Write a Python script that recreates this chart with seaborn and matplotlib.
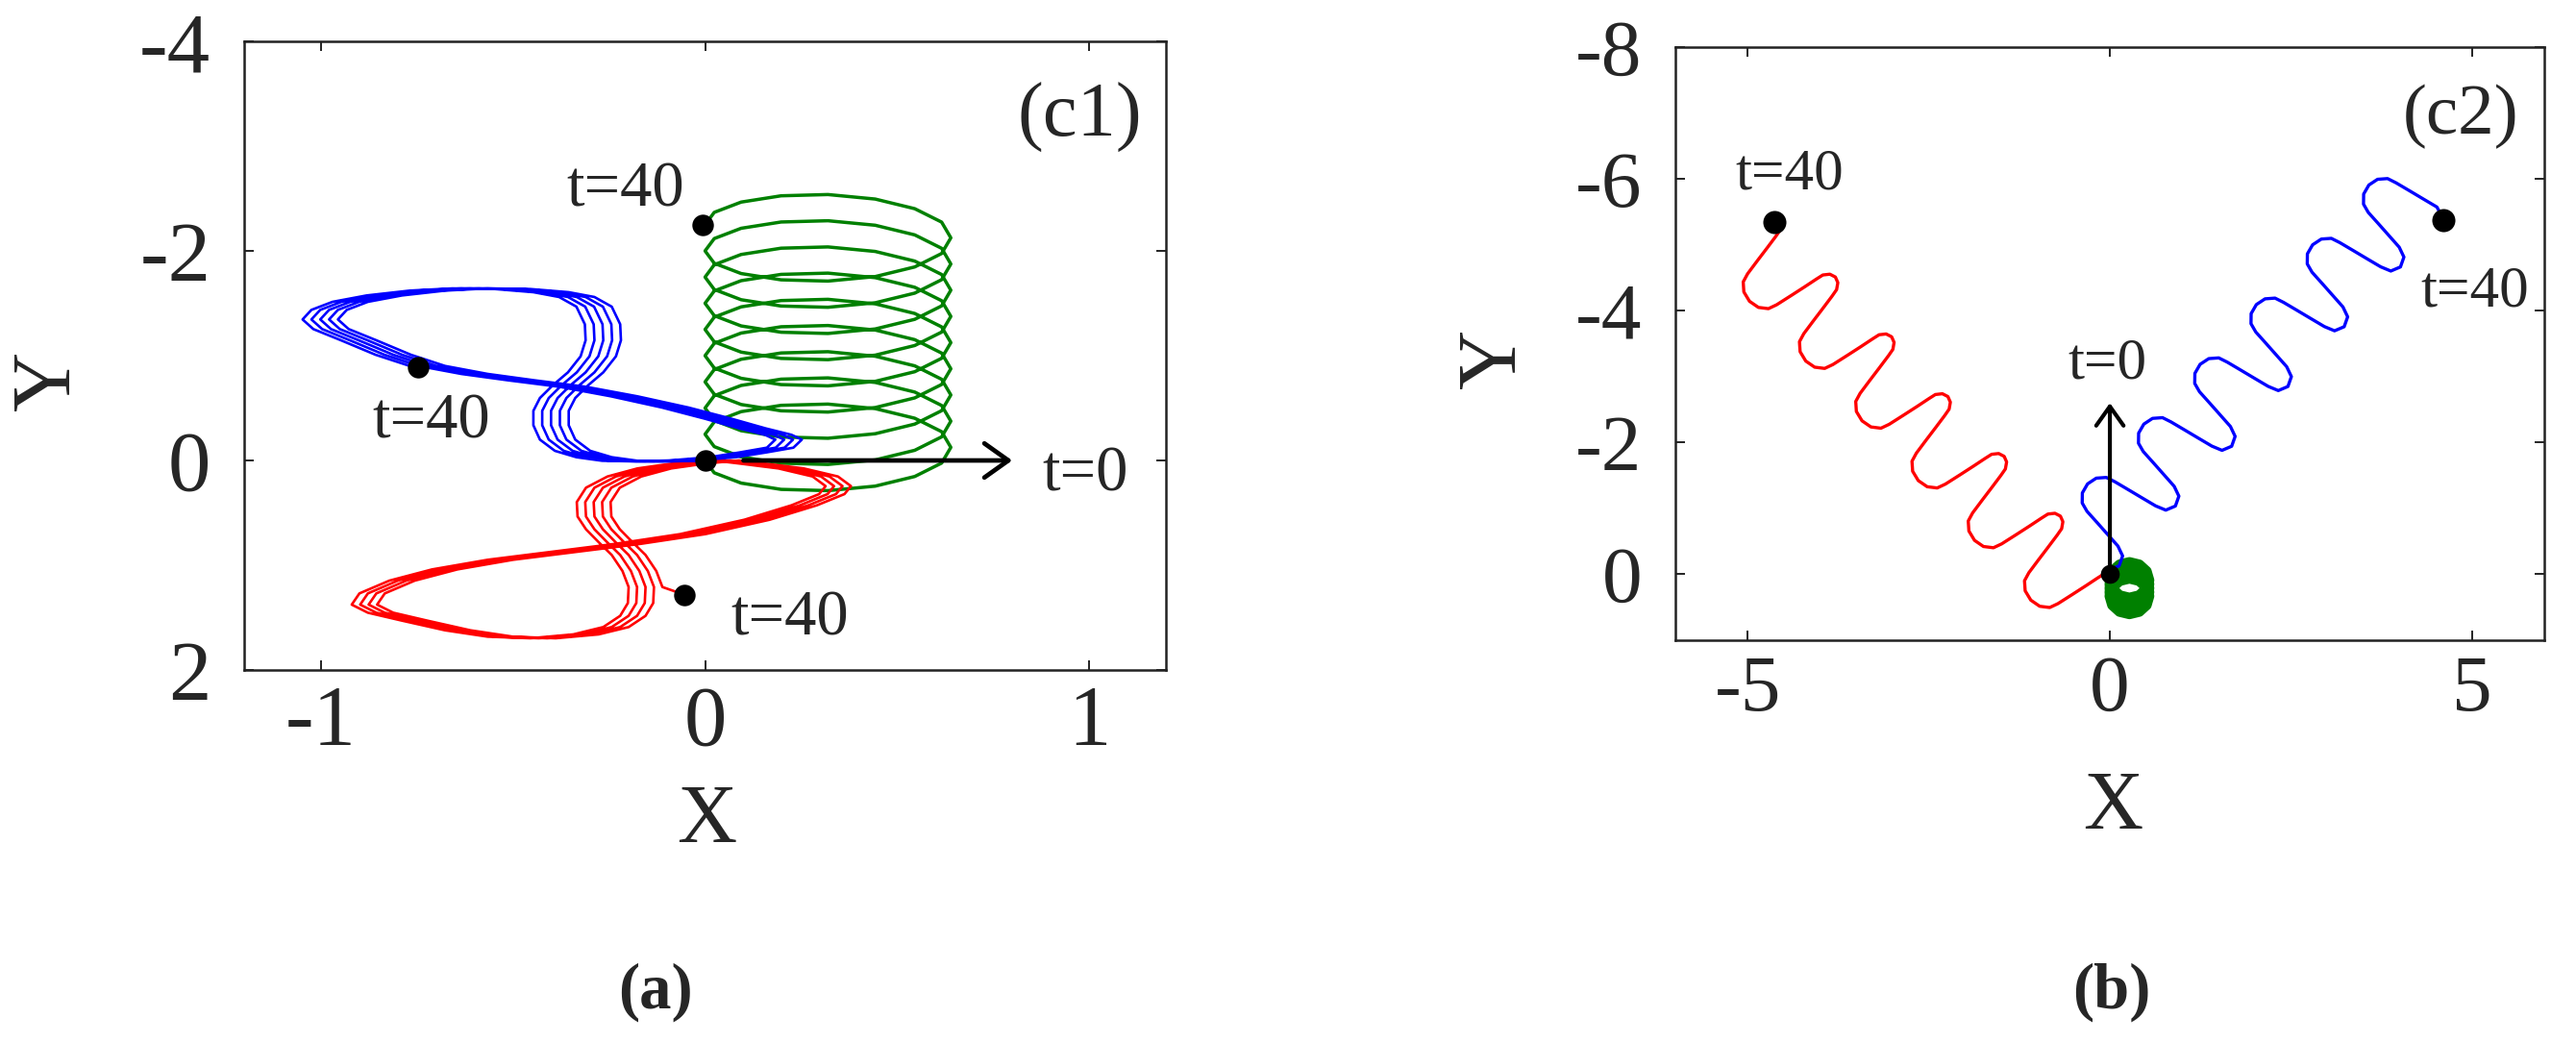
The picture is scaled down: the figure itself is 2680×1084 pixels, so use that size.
import matplotlib
matplotlib.use("Agg")
import matplotlib.pyplot as plt
import seaborn as sns

# ============================
# Values
# ============================

# (a) green spiral: one loop (with its own drift), stacked upward loop after loop
green_a_loop_x = [0.0, 0.024, 0.094, 0.198, 0.32, 0.443, 0.546, 0.616,
                  0.64, 0.616, 0.546, 0.443, 0.32, 0.198, 0.094, 0.024]
green_a_loop_y = [0.0, 0.118, 0.216, 0.276, 0.288, 0.245, 0.153, 0.025,
                  -0.125, -0.275, -0.403, -0.495, -0.538, -0.526, -0.466, -0.368]
green_a_step_y = [0.0, -0.25, -0.5, -0.75, -1.0, -1.25, -1.5, -1.75, -2.0]
green_a_end = (0.0, -2.25)

# (a) blue figure-eight strand, repeated strands drift left
blue_a_x = [0.0, -0.087, -0.176, -0.243, -0.299, -0.338, -0.355, -0.355, -0.338, -0.304,
            -0.265, -0.232, -0.219, -0.221, -0.243, -0.288, -0.355, -0.455, -0.566, -0.677,
            -0.789, -0.878, -0.933, -0.956, -0.928, -0.856, -0.766, -0.677, -0.566, -0.444,
            -0.310, -0.176, -0.043, 0.069, 0.158, 0.225, 0.252, 0.230, 0.158, 0.080]
blue_a_y = [0.0, 0.009, 0.003, -0.031, -0.092, -0.199, -0.336, -0.474, -0.596, -0.719,
            -0.841, -0.994, -1.147, -1.300, -1.468, -1.560, -1.606, -1.636, -1.642, -1.621,
            -1.575, -1.514, -1.437, -1.346, -1.254, -1.147, -1.009, -0.902, -0.826, -0.765,
            -0.703, -0.612, -0.505, -0.398, -0.306, -0.245, -0.199, -0.122, -0.076, -0.031]
blue_a_shift = [0.0, -0.023, -0.046, -0.069, -0.092]
blue_a_last = 27          # last strand stops on the diagonal
blue_a_end = (-0.746, -0.893)

# (a) red figure-eight strand, repeated strands drift right
red_a_x = [0.0, -0.087, -0.176, -0.254, -0.310, -0.334, -0.332, -0.310, -0.277, -0.243,
           -0.215, -0.199, -0.201, -0.221, -0.265, -0.343, -0.455, -0.566, -0.677, -0.789,
           -0.878, -0.920, -0.900, -0.822, -0.711, -0.566, -0.399, -0.232, -0.065, 0.102,
           0.225, 0.297, 0.314, 0.280, 0.191, 0.091]
red_a_y = [0.0, 0.030, 0.076, 0.153, 0.260, 0.397, 0.535, 0.657, 0.780, 0.902,
           1.055, 1.208, 1.361, 1.483, 1.590, 1.660, 1.697, 1.682, 1.621, 1.529,
           1.453, 1.376, 1.269, 1.147, 1.040, 0.948, 0.872, 0.795, 0.703, 0.566,
           0.428, 0.321, 0.245, 0.153, 0.076, 0.030]
red_a_shift = [0.0, 0.022, 0.044, 0.066, 0.088]
red_a_last = 11
red_a_end = (-0.055, 1.28)

# (b) red meander: one period, repeated along the diagonal
red_b_x = [0.018, -0.079, -0.171, -0.329, -0.511, -0.717, -0.831, -0.969, -1.092,
           -1.170, -1.179, -1.119, -0.989, -0.858, -0.728, -0.666, -0.649, -0.683]
red_b_y = [-0.019, -0.007, 0.057, 0.172, 0.301, 0.445, 0.504, 0.485, 0.392,
           0.250, 0.098, -0.024, -0.215, -0.404, -0.594, -0.692, -0.798, -0.883]
red_b_step_x = [0.0, -0.777, -1.554, -2.331, -3.108, -3.885]
red_b_step_y = [0.0, -0.907, -1.814, -2.721, -3.628, -4.535]
red_b_end = (-4.64, -5.34)

# (b) blue meander
blue_b_x = [-0.005, 0.128, 0.176, 0.111, -0.031, -0.173, -0.316, -0.382,
            -0.380, -0.308, -0.188, -0.050, 0.068, 0.256, 0.444, 0.632]
blue_b_y = [-0.067, -0.129, -0.279, -0.429, -0.605, -0.781, -0.956, -1.082,
            -1.235, -1.372, -1.459, -1.470, -1.405, -1.283, -1.160, -1.038]
blue_b_step_x = [0.0, 0.777, 1.554, 2.331, 3.108, 3.885]
blue_b_step_y = [0.0, -0.907, -1.814, -2.721, -3.628, -4.535]
blue_b_end = (4.61, -5.38)

# (b) green blob: small loops that barely drift
green_b_loop_x = [0.0, 0.036, 0.135, 0.27, 0.405, 0.504, 0.54, 0.504, 0.405, 0.27, 0.135, 0.036]
green_b_loop_y = [0.0, 0.135, 0.234, 0.27, 0.234, 0.135, 0.0, -0.135, -0.234, -0.27, -0.234, -0.135]
green_b_centers = [0.09, 0.15, 0.21, 0.27, 0.33]

# labels
a_xticks = [-1, 0, 1]
a_yticks = [-4, -2, 0, 2]
b_xticks = [-5, 0, 5]
b_yticks = [-8, -6, -4, -2, 0]
a_notes = [("t=40", -0.207, -2.58), ("t=40", -0.713, -0.37), ("t=40", 0.22, 1.51), ("t=0", 0.99, 0.14)]
a_dots = [(0.0, 0.0), (-0.007, -2.25), blue_a_end, red_a_end]
b_notes = [("t=40", -4.43, -6.07), ("t=40", 5.04, -4.28), ("t=0", -0.03, -3.19)]
b_dots = [red_b_end, blue_b_end]


def stack(base_x, base_y, step_x, step_y):
    xs, ys = [], []
    for sx, sy in zip(step_x, step_y):
        xs += [x + sx for x in base_x]
        ys += [y + sy for y in base_y]
    return xs, ys


def strands(base_x, base_y, shifts, last, end):
    xs, ys = [], []
    for i, s in enumerate(shifts):
        n = len(base_x) if i < len(shifts) - 1 else last + 1
        xs += [x + s for x in base_x[:n]]
        ys += base_y[:n]
    return xs + [end[0]], ys + [end[1]]


# ============================
# Style
# ============================
sns.set_style("ticks")
plt.rcParams['font.family'] = ['Liberation Serif', 'DejaVu Serif']
plt.rcParams['axes.unicode_minus'] = False

fig = plt.figure(figsize=(26.8, 10.84), dpi=100)
ax1 = fig.add_axes([0.0948, 0.357, 0.3578, 0.6033])
ax2 = fig.add_axes([0.6504, 0.3856, 0.3373, 0.5692])

GREEN, RED, BLUE = '#008000', '#ff0000', '#0000ff'

# ============================
# (a)
# ============================
gx, gy = stack(green_a_loop_x, green_a_loop_y, [0.0] * len(green_a_step_y), green_a_step_y)
gx.append(green_a_end[0]); gy.append(green_a_end[1])
sns.lineplot(x=gx, y=gy, sort=False, estimator=None, color=GREEN, linewidth=2.5, ax=ax1)

rx, ry = strands(red_a_x, red_a_y, red_a_shift, red_a_last, red_a_end)
sns.lineplot(x=rx, y=ry, sort=False, estimator=None, color=RED, linewidth=1.9, ax=ax1)

bx, by = strands(blue_a_x, blue_a_y, blue_a_shift, blue_a_last, blue_a_end)
sns.lineplot(x=bx, y=by, sort=False, estimator=None, color=BLUE, linewidth=1.9, ax=ax1)

ax1.annotate('', xy=(0.8, 0.0), xytext=(0.1, 0.0),
             arrowprops=dict(arrowstyle='->,head_length=0.45,head_width=0.32', lw=3.4,
                             color='black', mutation_scale=40, shrinkA=0, shrinkB=0), zorder=6)
sns.scatterplot(x=[d[0] for d in a_dots], y=[d[1] for d in a_dots], color='black', s=260,
                edgecolor='black', linewidth=0, zorder=7, ax=ax1)
for txt, x, y in a_notes:
    ax1.text(x, y, txt, fontsize=48, ha='center', va='center')
ax1.text(0.975, -3.27, '(c1)', fontsize=58, ha='center', va='center')

ax1.set_xlim(-1.2, 1.2)
ax1.set_ylim(2, -4)
ax1.set_xticks(a_xticks)
ax1.set_yticks(a_yticks)

# ============================
# (b)
# ============================
gbx, gby = [], []
for c in green_b_centers:
    gbx += green_b_loop_x
    gby += [y + c for y in green_b_loop_y]
sns.lineplot(x=gbx, y=gby, sort=False, estimator=None, color=GREEN, linewidth=8, ax=ax2)

rbx, rby = stack(red_b_x, red_b_y, red_b_step_x, red_b_step_y)
rbx = [0.0] + rbx + [red_b_end[0]]
rby = [0.0] + rby + [red_b_end[1]]
sns.lineplot(x=rbx, y=rby, sort=False, estimator=None, color=RED, linewidth=2.4, ax=ax2)

bbx, bby = stack(blue_b_x, blue_b_y, blue_b_step_x, blue_b_step_y)
bbx = [0.0] + bbx + [blue_b_end[0]]
bby = [0.0] + bby + [blue_b_end[1]]
sns.lineplot(x=bbx, y=bby, sort=False, estimator=None, color=BLUE, linewidth=2.4, ax=ax2)

ax2.annotate('', xy=(0.0, -2.6), xytext=(0.0, 0.0),
             arrowprops=dict(arrowstyle='->,head_length=0.45,head_width=0.32', lw=3.0,
                             color='black', mutation_scale=32, shrinkA=0, shrinkB=0), zorder=6)
sns.scatterplot(x=[d[0] for d in b_dots], y=[d[1] for d in b_dots], color='black', s=300,
                edgecolor='black', linewidth=0, zorder=7, ax=ax2)
sns.scatterplot(x=[0.0], y=[0.0], color='black', s=200, edgecolor='black', linewidth=0,
                zorder=7, ax=ax2)
for txt, x, y in b_notes:
    ax2.text(x, y, txt, fontsize=44, ha='center', va='center')
ax2.text(4.84, -6.94, '(c2)', fontsize=54, ha='center', va='center')

ax2.set_xlim(-6, 6)
ax2.set_ylim(1, -8)
ax2.set_xticks(b_xticks)
ax2.set_yticks(b_yticks)

# ============================
# Axes cosmetics
# ============================
for ax, fs in [(ax1, 64), (ax2, 60)]:
    for sp in ax.spines.values():
        sp.set_visible(True)
        sp.set_linewidth(1.8)
        sp.set_color('#222222')
    ax.tick_params(direction='in', length=7, width=1.4, top=True, right=True,
                   labelsize=fs, color='#222222')
    ax.tick_params(axis='x', pad=11)
    ax.tick_params(axis='y', pad=25)
    ax.set_xlabel('X', fontsize=62, va='center')
    ax.set_ylabel('Y', fontsize=62, va='center')

ax1.xaxis.set_label_coords(0.502, -0.242)
ax1.yaxis.set_label_coords(-0.211, 0.46)
ax2.xaxis.set_label_coords(0.503, -0.284)
ax2.yaxis.set_label_coords(-0.208, 0.475)

fig.text(682 / 2680, 1 - 1032 / 1084, '(a)', fontsize=48, fontweight='bold', ha='center', va='center')
fig.text(2197 / 2680, 1 - 1032 / 1084, '(b)', fontsize=48, fontweight='bold', ha='center', va='center')

fig.savefig('out.png', dpi=100, facecolor='white')
